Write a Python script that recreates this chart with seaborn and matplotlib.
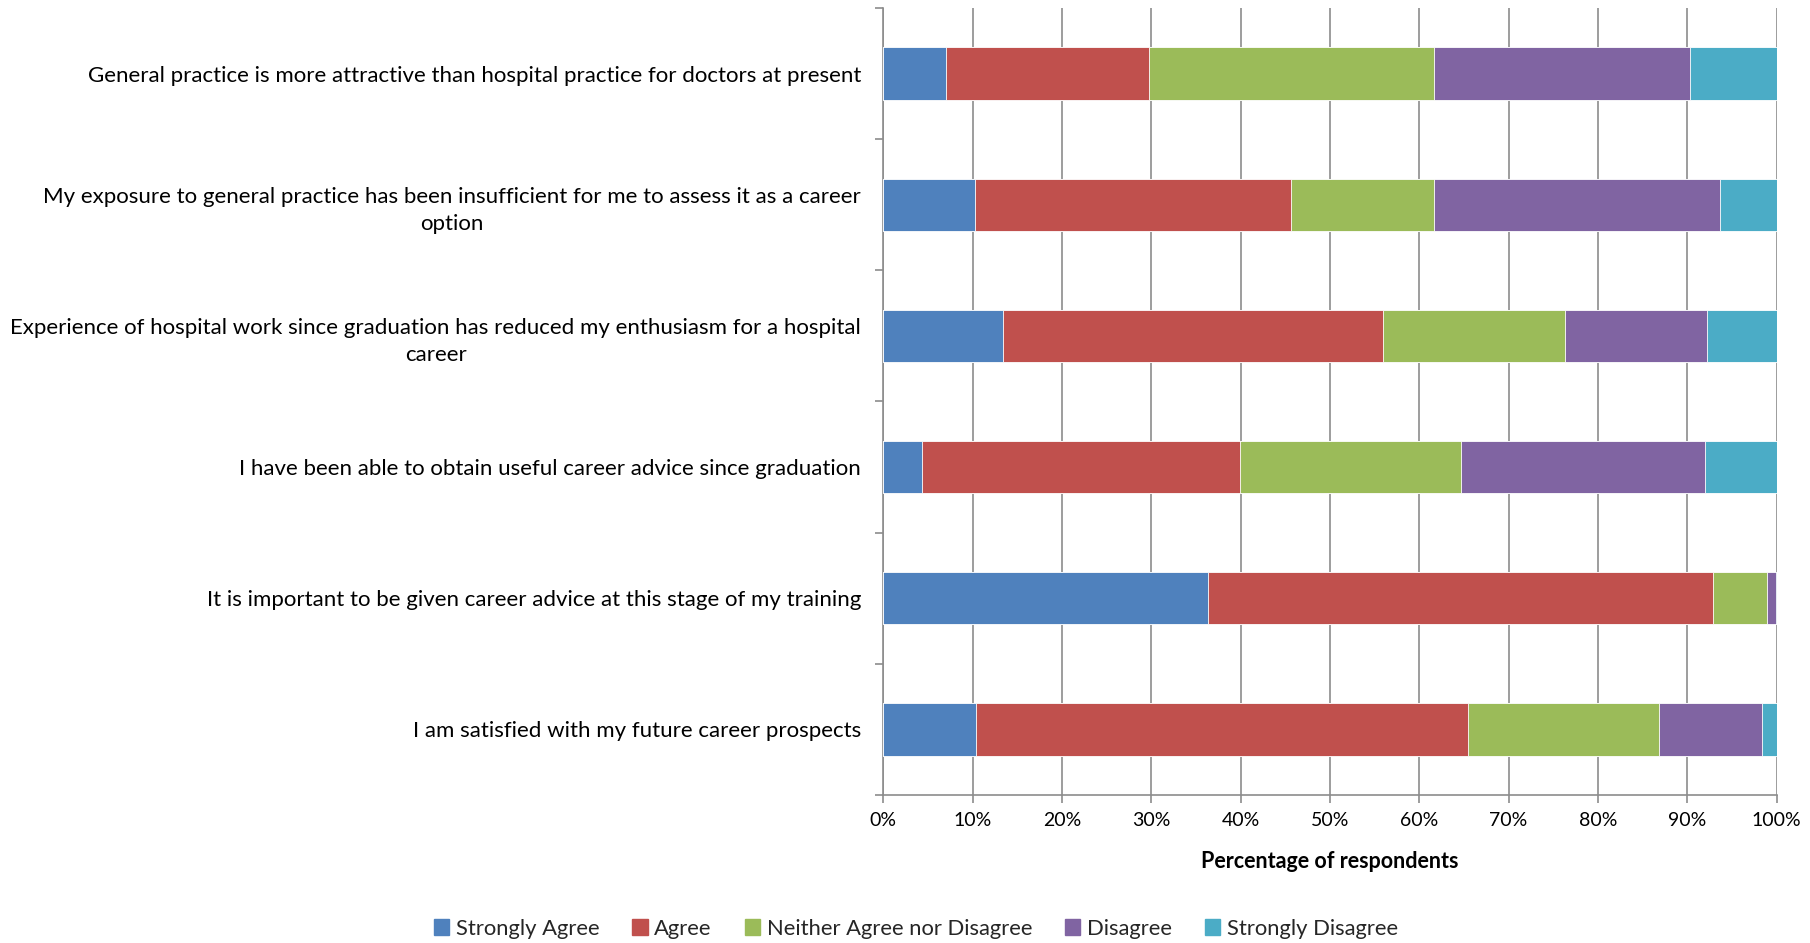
import matplotlib
matplotlib.use("Agg")
import matplotlib.pyplot as plt
import matplotlib.patches as mpatches
import seaborn as sns
import numpy as np
import pandas as pd
from matplotlib.ticker import FixedLocator, PercentFormatter

statements = [
    "General practice is more attractive than hospital practice for doctors at present",
    "My exposure to general practice has been insufficient for me to assess it as a career\noption",
    "Experience of hospital work since graduation has reduced my enthusiasm for a hospital\ncareer",
    "I have been able to obtain useful career advice since graduation",
    "It is important to be given career advice at this stage of my training",
    "I am satisfied with my future career prospects",
]
responses = ["Strongly Agree", "Agree", "Neither Agree nor Disagree", "Disagree", "Strongly Disagree"]
strongly_agree = [7.0, 10.3, 13.4, 4.3, 36.3, 10.4]
agree = [22.8, 35.3, 42.6, 35.6, 56.6, 55.1]
neither = [31.9, 16.0, 20.3, 24.8, 6.0, 21.3]
disagree = [28.6, 32.1, 15.9, 27.3, 1.0, 11.6]
strongly_disagree = [9.7, 6.3, 7.8, 8.0, 0.1, 1.6]
xticks = [0, 10, 20, 30, 40, 50, 60, 70, 80, 90, 100]

colors = ["#4F81BD", "#C0504D", "#9BBB59", "#8064A2", "#4BACC6"]

sns.set_theme(style="white")
plt.rcParams["font.family"] = ["Lato", "DejaVu Sans"]

df = pd.DataFrame({
    "statement": statements,
    responses[0]: strongly_agree,
    responses[1]: agree,
    responses[2]: neither,
    responses[3]: disagree,
    responses[4]: strongly_disagree,
})
cum = df[responses].cumsum(axis=1)

fig = plt.figure(figsize=(18.10, 9.43), dpi=100)
ax = fig.add_axes([0.488, 0.157, 0.4935, 0.8345])

for resp, col in reversed(list(zip(responses, colors))):
    sns.barplot(data=cum.assign(statement=statements), x=resp, y="statement",
                orient="h", color=col, width=0.4, saturation=1,
                edgecolor="white", linewidth=0.6, ax=ax, zorder=3)

ax.set_xlim(0, 100)
ax.set_ylim(len(statements) - 0.5, -0.5)
ax.xaxis.set_major_locator(FixedLocator(xticks))
ax.xaxis.set_major_formatter(PercentFormatter(decimals=0))
ax.grid(axis="x", color="#8c8c8c", linewidth=1.2, zorder=0)
ax.grid(axis="y", visible=False)
ax.set_axisbelow(True)

for s in ["top", "right"]:
    ax.spines[s].set_visible(False)
for s in ["left", "bottom"]:
    ax.spines[s].set_color("#8c8c8c")
    ax.spines[s].set_linewidth(1.2)

ax.yaxis.set_minor_locator(FixedLocator(np.arange(-0.5, len(statements), 1.0)))
ax.tick_params(axis="y", which="major", length=0, pad=16, labelsize=16.0, labelcolor="#000000")
ax.tick_params(axis="y", which="minor", length=6, width=1.2, color="#8c8c8c", left=True)
ax.tick_params(axis="x", which="major", length=6, width=1.2, color="#8c8c8c", bottom=True,
               labelsize=14, pad=6, labelcolor="#000000")
for lbl in ax.get_yticklabels():
    lbl.set_multialignment("center")
    lbl.set_linespacing(1.45)

ax.set_ylabel("")
ax.set_xlabel("Percentage of respondents", fontsize=15.5, fontweight="bold", labelpad=16, color="#000000")

handles = [mpatches.Patch(color=c, label=r) for r, c in zip(responses, colors)]
fig.legend(handles=handles, loc="center", bbox_to_anchor=(0.506, 0.015), ncol=5,
           frameon=False, fontsize=15.8, handlelength=0.7, handleheight=0.7,
           handletextpad=0.3, columnspacing=1.5)

fig.savefig("out.png", dpi=100)
